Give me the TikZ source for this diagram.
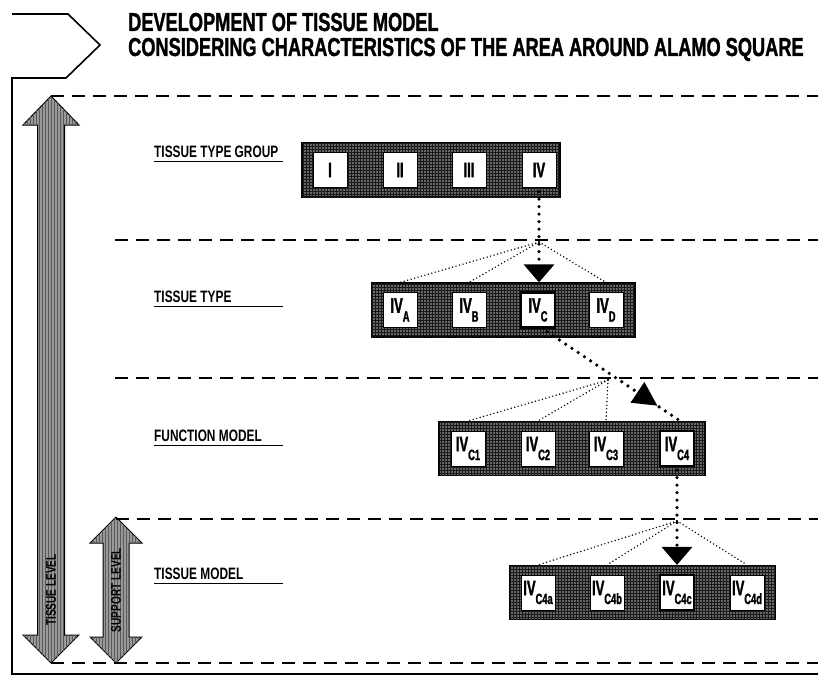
\documentclass[tikz,border=0pt]{standalone}
\usepackage{fontspec}
\usepackage{graphicx}
\usetikzlibrary{arrows.meta,patterns,decorations.markings}
\newfontfamily\condf[FakeStretch=0.72]{Liberation Sans}
\newfontfamily\titf[FakeStretch=0.70,FakeBold=1.2]{Liberation Sans}
\newfontfamily\cellf[FakeStretch=0.62,FakeBold=1.5]{Liberation Sans}
\newcommand{\lowsub}[1]{\raisebox{-0.42em}{\fontsize{15}{15}\selectfont #1}}
\begin{document}
\begin{tikzpicture}[x=1pt,y=-1pt,
 bar/.style={draw=black,line width=1.2pt,fill=black!60,postaction={pattern=grid,pattern color=black!90},minimum height=54pt,inner sep=0pt},
 cell/.style={draw=black,line width=1pt,fill=white,minimum width=34pt,minimum height=35pt,inner sep=0pt,font=\cellf\bfseries\fontsize{21}{21}\selectfont},
 selcell/.style={cell,line width=2.8pt},
 lvl/.style={font=\condf\bfseries\fontsize{16.5}{16.5}\selectfont,anchor=base west,inner xsep=0pt,inner ysep=4pt},
 ttl/.style={font=\titf\bfseries\fontsize{26}{26}\selectfont,anchor=base west,inner sep=0pt},
 uline/.style={line width=1.6pt},
 sep/.style={line width=1.3pt,dash pattern=on 13pt off 8pt},
 bigdots/.style={line width=3.6pt,dash pattern=on 0pt off 7.5pt,line cap=round},
 fine/.style={line width=1.6pt,dash pattern=on 0pt off 3.6pt,line cap=round},
 lvlarrow/.style={draw=black,line width=1pt,fill=black!40,postaction={pattern=vertical lines,pattern color=black!65}},
 arrtext/.style={rotate=90,font=\condf\bfseries\fontsize{14}{14}\selectfont,inner sep=1pt},
 bighead/.style={-{Triangle[width=30pt,length=18pt]}}
 ]
\useasboundingbox (0,0) rectangle (818,677);
\fill[white] (0,0) rectangle (818,677);

% frame
\draw[line width=1.6pt,line join=miter] (12,14) -- (68,14) -- (100,45) -- (66,78) -- (12,78) -- (12,674) -- (818,674);

% title
\node[ttl] (t1) at (128,31) {DEVELOPMENT OF TISSUE MODEL};
\node[ttl] (t2) at (128,56) {CONSIDERING CHARACTERISTICS OF THE AREA AROUND ALAMO SQUARE};

% level arrows
\draw[lvlarrow] (51,96) -- (79,125) -- (64.5,125) -- (64.5,635) -- (79,635) -- (51,663) -- (23,635) -- (37.5,635) -- (37.5,125) -- (23,125) -- cycle;
\draw[lvlarrow] (116,517) -- (142,543) -- (129,543) -- (129,637) -- (142,637) -- (116,663) -- (90,637) -- (103,637) -- (103,543) -- (90,543) -- cycle;
\node[arrtext] (tl) at (51,590) {TISSUE LEVEL};
\node[arrtext] (sl) at (116,590) {SUPPORT LEVEL};

% separators
\draw[sep] (51,96) -- (818,96);
\draw[sep] (115,240) -- (818,240);
\draw[sep] (115,378) -- (818,378);
\draw[sep] (116,519) -- (818,519);
\draw[sep] (51,663) -- (818,663);

% level labels
\coordinate (ue) at (283,0);
\node[lvl] (l1) at (154,157) {TISSUE TYPE GROUP};
\node[lvl] (l2) at (154,302) {TISSUE TYPE};
\node[lvl] (l3) at (154,441) {FUNCTION MODEL};
\node[lvl] (l4) at (154,579) {TISSUE MODEL};
\foreach \l in {l1,l2,l3,l4} \draw[uline] (\l.south west) -- (\l.south west -| ue);

% bars
\node[bar,minimum width=258pt] (b1) at (431,170) {};
\node[bar,minimum width=263pt] (b2) at (503.5,310) {};
\node[bar,minimum width=266pt] (b3) at (572,448.5) {};
\node[bar,minimum width=265pt] (b4) at (642.5,592.5) {};

% cells
\node[cell] (g1) at (330,170) {I};
\node[cell] (g2) at (400,170) {II};
\node[cell] (g3) at (469,170) {III};
\node[cell] (g4) at (539,170) {IV};

\node[cell] (a) at (400,310) {IV\lowsub{A}};
\node[cell] (b) at (469,310) {IV\lowsub{B}};
\node[selcell] (c) at (538,310) {IV\lowsub{C}};
\node[cell] (d) at (606,310) {IV\lowsub{D}};

\node[cell] (h1) at (468,448.5) {IV\lowsub{C1}};
\node[cell] (h2) at (538,448.5) {IV\lowsub{C2}};
\node[cell] (h3) at (606,448.5) {IV\lowsub{C3}};
\node[selcell] (h4) at (677,448.5) {IV\lowsub{C4}};

\node[cell] (j1) at (538,592.5) {IV\lowsub{C4a}};
\node[cell] (j2) at (607,592.5) {IV\lowsub{C4b}};
\node[selcell] (j3) at (677,592.5) {IV\lowsub{C4c}};
\node[cell] (j4) at (747,592.5) {IV\lowsub{C4d}};

% fan points
\coordinate (f1) at (539,242);
\coordinate (f2) at (608,380);
\coordinate (f3) at (677,521);

% connectors
\draw[bigdots,bighead] ([yshift=6pt]g4.south |- b1.south) -- (g4 |- b2.north);
\draw[fine] (f1) -- (a |- b2.north);
\draw[fine] (f1) -- (b |- b2.north);
\draw[fine] (f1) -- (d |- b2.north);

\draw[bigdots,postaction={decorate},decoration={markings,mark=at position 0.83 with {\arrow{Triangle[width=24pt,length=24pt]}}}]
  ([xshift=9pt,yshift=6pt]c.south |- b2.south) -- ([xshift=3pt]h4 |- b3.north);
\draw[fine] (f2) -- (h1 |- b3.north);
\draw[fine] (f2) -- (h2 |- b3.north);
\draw[fine] (f2) -- (h3 |- b3.north);

\draw[bigdots,bighead] ([yshift=6pt]h4.south |- b3.south) -- (j3 |- b4.north);
\draw[fine] (f3) -- (j1 |- b4.north);
\draw[fine] (f3) -- (j2 |- b4.north);
\draw[fine] (f3) -- (j4 |- b4.north);
\end{tikzpicture}
\end{document}
